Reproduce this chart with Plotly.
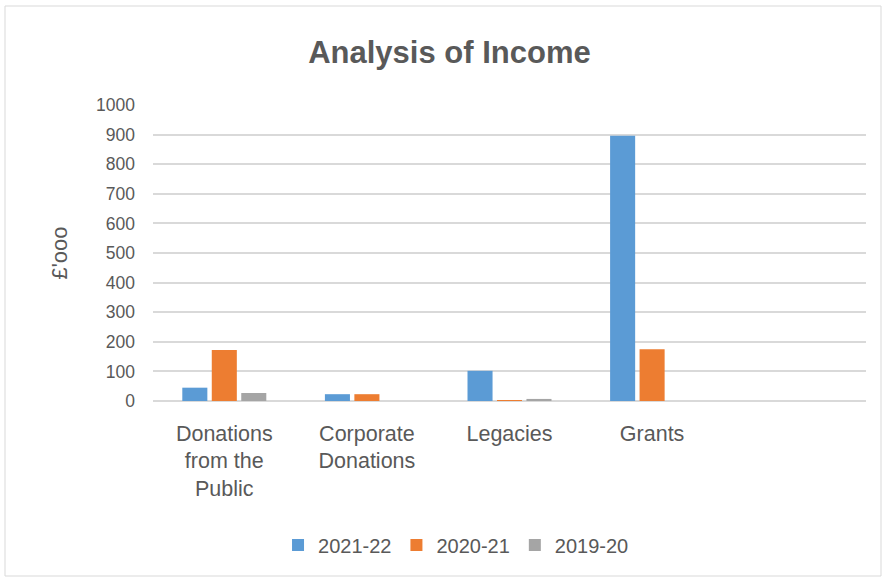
import plotly.graph_objects as go

categories = ["Donations<br>from the<br>Public", "Corporate<br>Donations", "Legacies", "Grants"]
series_names = ["2021-22", "2020-21", "2019-20"]
values_2021_22 = [45, 23, 102, 896]
values_2020_21 = [172, 23, 1, 175]
values_2019_20 = [27, 0, 7, 0]
colors = ["#5B9BD5", "#ED7D31", "#A5A5A5"]
y_ticks = [0, 100, 200, 300, 400, 500, 600, 700, 800, 900, 1000]

FONT = "Liberation Sans"
TXT = "#595959"

fig = go.Figure()
for name, vals, col in zip(series_names, [values_2021_22, values_2020_21, values_2019_20], colors):
    fig.add_trace(go.Bar(x=categories, y=vals, name=name, marker=dict(color=col, line=dict(width=0))))

W, H = 883, 577
L, R, T, B = 153, 17, 105, 176
pw, ph = W - L - R, H - T - B

def px2x(p):
    return (p - L) / pw

def py2y(p):
    return (H - B - p) / ph

fig.update_layout(
    width=W, height=H,
    margin=dict(l=L, r=R, t=T, b=B),
    paper_bgcolor="white", plot_bgcolor="white",
    barmode="group", bargap=0.38, bargroupgap=0.15,
    font=dict(family=FONT, color=TXT, size=17),
    title=dict(text="<b>Analysis of Income</b>", x=0.509, xanchor="center", y=1 - 52 / H, yanchor="middle",
               font=dict(family=FONT, size=31, color=TXT)),
    xaxis=dict(type="category", range=[-0.5, 4.5], showgrid=False, showline=False, ticks="",
               tickfont=dict(size=21.5, color=TXT), ticklabelstandoff=17),
    yaxis=dict(range=[0, 1000], tickvals=y_ticks, showgrid=True, gridcolor="#D9D9D9", gridwidth=1.5,
               zeroline=True, zerolinecolor="#D9D9D9", zerolinewidth=1.5, showline=False, ticks="",
               tickfont=dict(size=17.5, color=TXT), ticklabelstandoff=17,
               title=dict(text="£'ooo", font=dict(size=22, color=TXT), standoff=22)),
    legend=dict(orientation="h", x=0.425, xanchor="center", y=py2y(545), yanchor="middle",
                font=dict(size=20, color=TXT), traceorder="normal", itemwidth=30),
    showlegend=True,
)

fig.add_shape(type="rect", xref="paper", yref="paper",
              x0=px2x(5), x1=px2x(881), y0=py2y(576), y1=py2y(6),
              line=dict(color="#D9D9D9", width=1), fillcolor="rgba(0,0,0,0)", layer="below")

fig.write_html("out.html")
